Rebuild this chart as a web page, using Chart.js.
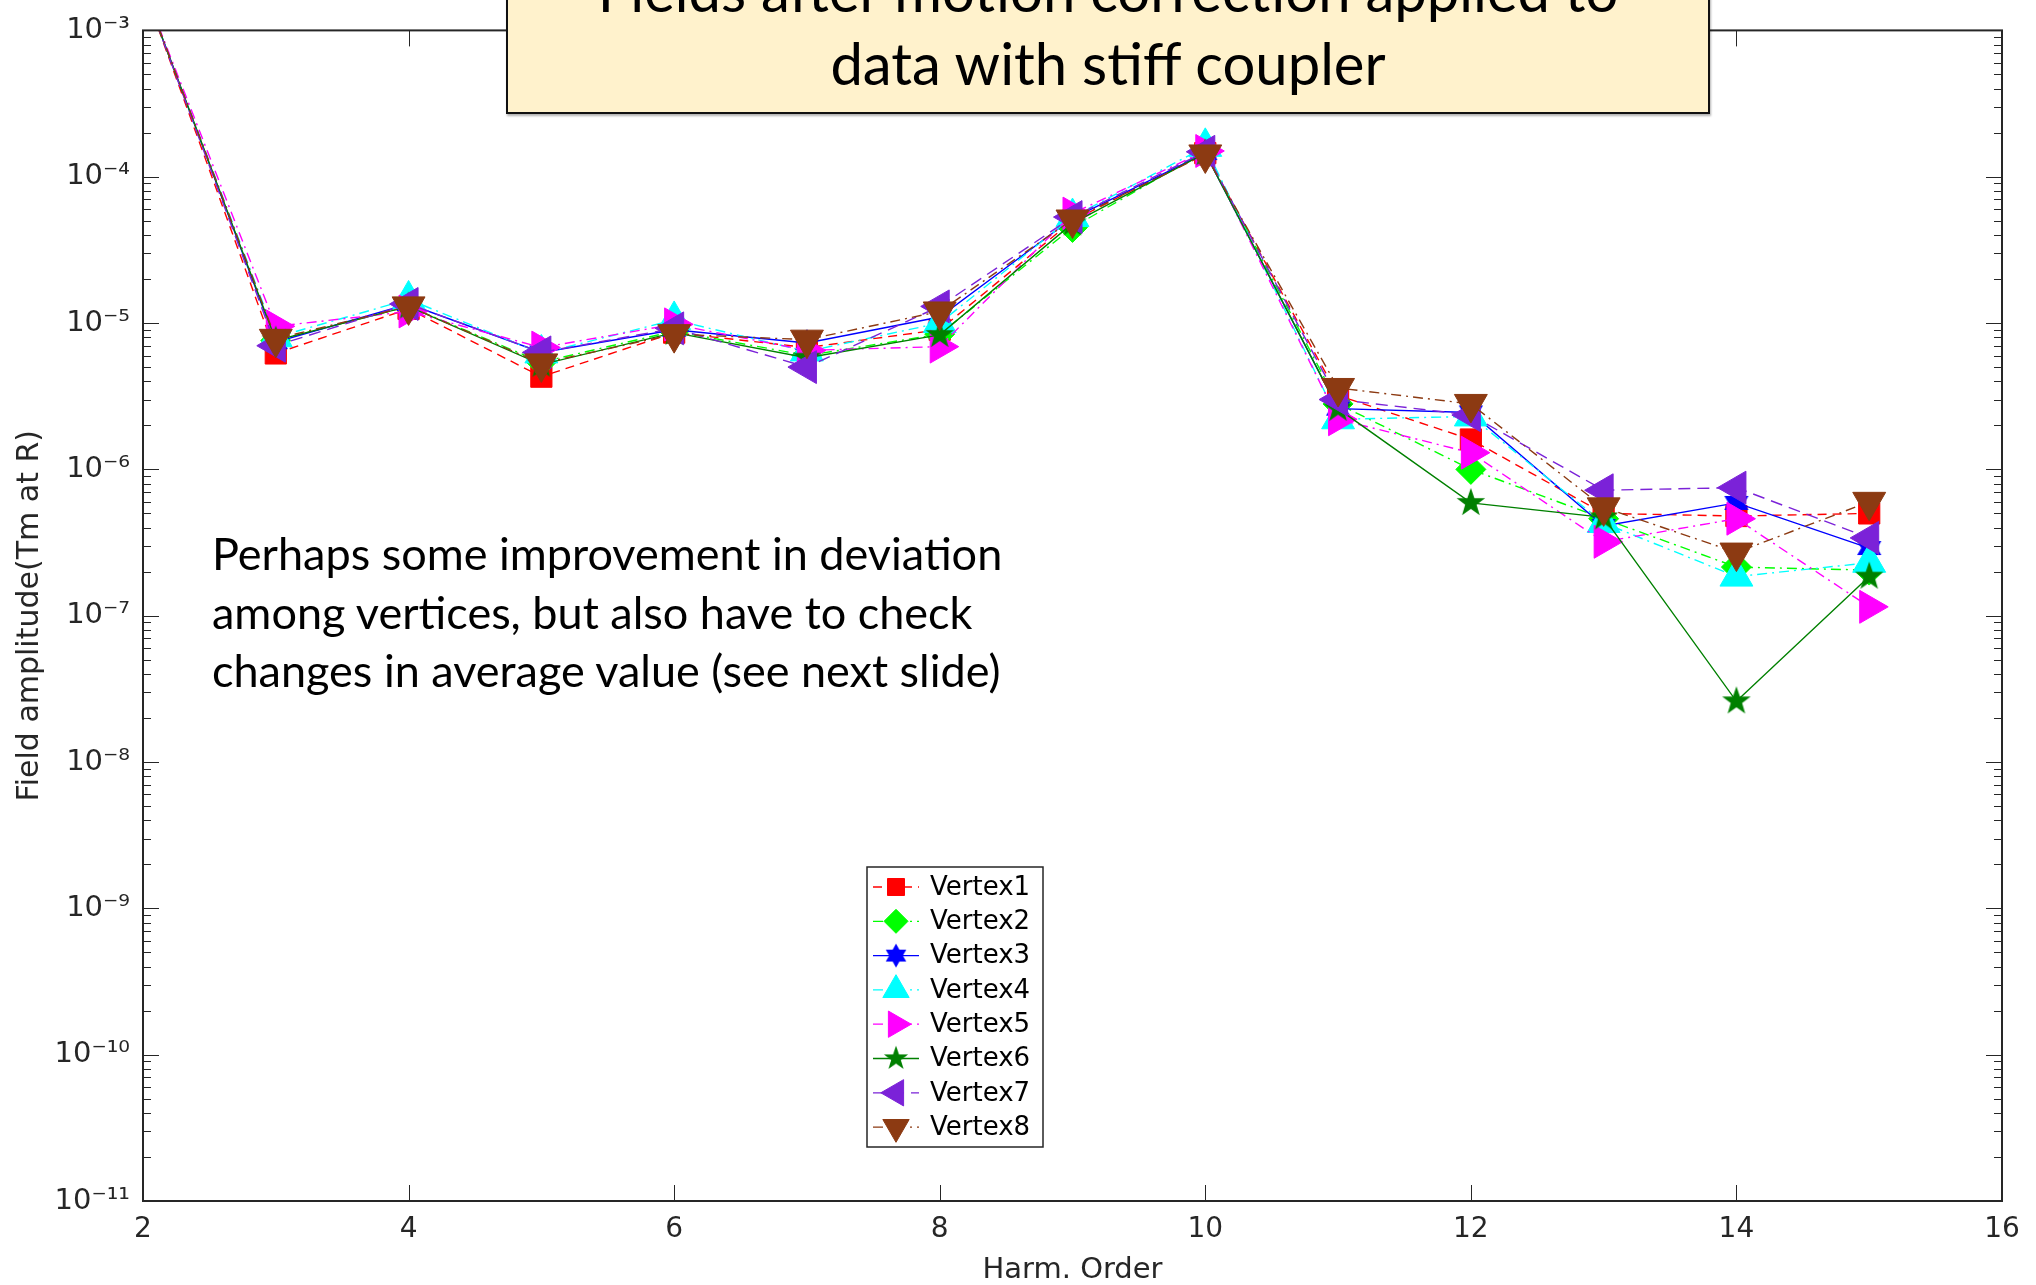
<!DOCTYPE html>
<html>
<head>
<meta charset="utf-8">
<title>Fields after motion correction</title>
<script src="https://cdn.jsdelivr.net/npm/chart.js@4.4.0/dist/chart.umd.min.js"></script>
<style>
    body { margin: 0; background: #fff; overflow: hidden; }
    #wrap { position: relative; width: 2036px; height: 1285px; }
    #titleBox {
        position: absolute; left: 506px; top: -80px; width: 1204px; height: 194px;
        box-sizing: border-box; background: #fff2cc; border: 2px solid #111;
        box-shadow: 1px 2px 2px rgba(0, 0, 0, 0.3);
        font-family: Lato, "Open Sans", sans-serif; font-size: 58px; line-height: 73px;
        text-align: center; color: #000; padding-top: 31px;
    }
    #note {
        position: absolute; left: 212px; top: 524px;
        font-family: Lato, "Open Sans", sans-serif; font-size: 45px; line-height: 58.5px; color: #000;
    }
</style>
</head>
<body>
<div id="wrap">
    <canvas id="fieldChart" width="2036" height="1285"></canvas>
    <div id="titleBox">Fields after motion correction applied to<br>data with stiff coupler</div>
    <div id="note">Perhaps some improvement in deviation<br>among vertices, but also have to check<br>changes in average value (see next slide)</div>
</div>
<script>
// harmonic orders (x) and field amplitude per vertex (Tm at R)
const harmOrders = [2, 3, 4, 5, 6, 7, 8, 9, 10, 11, 12, 13, 14, 15];
const vertex1 = [2.0e-3, 6.2e-6, 1.25e-5, 4.3e-6, 8.6e-6, 6.8e-6, 9.0e-6, 5.0e-5, 1.45e-4, 3.2e-6, 1.6e-6, 5.0e-7, 4.8e-7, 5.0e-7];
const vertex2 = [2.0e-3, 7.6e-6, 1.3e-5, 5.4e-6, 8.8e-6, 6.0e-6, 8.4e-6, 4.5e-5, 1.5e-4, 2.8e-6, 1.0e-6, 4.6e-7, 2.15e-7, 2.05e-7];
const vertex3 = [2.0e-3, 7.4e-6, 1.35e-5, 6.3e-6, 9.0e-6, 7.3e-6, 1.1e-5, 5.2e-5, 1.45e-4, 2.6e-6, 2.45e-6, 4.1e-7, 5.9e-7, 2.9e-7];
const vertex4 = [2.0e-3, 8.0e-6, 1.45e-5, 6.2e-6, 1.05e-5, 6.4e-6, 1.0e-5, 5.3e-5, 1.6e-4, 2.2e-6, 2.3e-6, 4.3e-7, 1.85e-7, 2.3e-7];
const vertex5 = [2.0e-3, 9.5e-6, 1.2e-5, 6.8e-6, 9.8e-6, 6.5e-6, 6.9e-6, 5.6e-5, 1.5e-4, 2.2e-6, 1.3e-6, 3.2e-7, 4.6e-7, 1.15e-7];
const vertex6 = [2.0e-3, 7.6e-6, 1.3e-5, 5.2e-6, 8.6e-6, 5.8e-6, 8.3e-6, 4.8e-5, 1.45e-4, 2.6e-6, 5.9e-7, 4.7e-7, 2.6e-8, 1.85e-7];
const vertex7 = [2.0e-3, 7.0e-6, 1.35e-5, 6.3e-6, 9.2e-6, 5.0e-6, 1.3e-5, 5.3e-5, 1.48e-4, 3.0e-6, 2.35e-6, 7.2e-7, 7.5e-7, 3.4e-7];
const vertex8 = [2.0e-3, 7.8e-6, 1.3e-5, 5.3e-6, 8.4e-6, 7.7e-6, 1.2e-5, 5.1e-5, 1.42e-4, 3.6e-6, 2.8e-6, 5.5e-7, 2.7e-7, 6.0e-7];
const seriesNames = ['Vertex1', 'Vertex2', 'Vertex3', 'Vertex4', 'Vertex5', 'Vertex6', 'Vertex7', 'Vertex8'];
const xTickValues = [2, 4, 6, 8, 10, 12, 14, 16];
const yDecades = [-11, -10, -9, -8, -7, -6, -5, -4, -3];

const axisColor = '#262626';
const supDigits = { '0': '⁰', '1': '¹', '2': '²', '3': '³', '4': '⁴', '5': '⁵', '6': '⁶', '7': '⁷', '8': '⁸', '9': '⁹', '-': '⁻' };

// filled star marker (pentagram / hexagram) as a small canvas
function starMarker(points, outer, inner, color) {
    const size = Math.ceil(outer * 2 + 2);
    const c = document.createElement('canvas');
    c.width = size;
    c.height = size;
    const g = c.getContext('2d');
    g.translate(size / 2, size / 2);
    g.beginPath();
    for (let i = 0; i < points * 2; i++) {
        const r = i % 2 ? inner : outer;
        const a = -Math.PI / 2 + i * Math.PI / points;
        g.lineTo(r * Math.cos(a), r * Math.sin(a));
    }
    g.closePath();
    g.fillStyle = color;
    g.fill();
    return c;
}

const styles = [
    { color: '#ff0000', dash: [9, 6], point: 'rect', rotation: 0, radius: 15 },
    { color: '#00ff00', dash: [10, 5, 2, 5], point: 'rectRot', rotation: 0, radius: 15 },
    { color: '#0000ff', dash: [], point: starMarker(6, 14, 8, '#0000ff'), rotation: 0, radius: 14 },
    { color: '#00ffff', dash: [10, 5, 2, 5], point: 'triangle', rotation: 0, radius: 19 },
    { color: '#ff00ff', dash: [10, 5, 2, 5], point: 'triangle', rotation: 90, radius: 19 },
    { color: '#008000', dash: [], point: starMarker(5, 15, 6, '#008000'), rotation: 0, radius: 15 },
    { color: '#7b22d8', dash: [12, 7], point: 'triangle', rotation: 270, radius: 19 },
    { color: '#8c3a12', dash: [10, 5, 2, 5], point: 'triangle', rotation: 180, radius: 19 }
];
const seriesValues = [vertex1, vertex2, vertex3, vertex4, vertex5, vertex6, vertex7, vertex8];

const datasets = seriesValues.map((vals, i) => ({
    label: seriesNames[i],
    data: vals,
    borderColor: styles[i].color,
    backgroundColor: styles[i].color,
    borderWidth: 1.4,
    borderDash: styles[i].dash,
    pointStyle: styles[i].point,
    rotation: styles[i].rotation,
    pointRadius: styles[i].radius,
    pointBorderWidth: 1,
    pointBorderColor: styles[i].color,
    pointBackgroundColor: styles[i].color,
    tension: 0,
    clip: 0,
    order: seriesValues.length - 1 - i   // last vertex on top, like MATLAB
}));

// box, inward major/minor tick marks
const axesBox = {
    id: 'axesBox',
    afterDatasetsDraw(chart) {
        const { ctx, chartArea: a, scales: { x, y } } = chart;
        ctx.save();
        ctx.strokeStyle = axisColor;
        ctx.lineWidth = 1;
        ctx.beginPath();
        yDecades.forEach(e => {
            for (let m = 1; m <= 9; m++) {
                const v = m * Math.pow(10, e);
                if (v > 1.0001e-3) break;
                const py = Math.round(y.getPixelForValue(v)) + 0.5;
                const len = m === 1 ? 16 : 8;
                ctx.moveTo(a.left, py);
                ctx.lineTo(a.left + len, py);
                ctx.moveTo(a.right, py);
                ctx.lineTo(a.right - len, py);
            }
        });
        xTickValues.forEach(v => {
            const px = Math.round(x.getPixelForValue(v)) + 0.5;
            ctx.moveTo(px, a.bottom);
            ctx.lineTo(px, a.bottom - 16);
            ctx.moveTo(px, a.top);
            ctx.lineTo(px, a.top + 16);
        });
        ctx.stroke();
        ctx.lineWidth = 2;
        ctx.strokeRect(a.left, a.top, a.right - a.left, a.bottom - a.top);
        ctx.restore();
    }
};

// MATLAB style legend box inside the axes
const boxLegend = {
    id: 'boxLegend',
    afterDraw(chart) {
        const ctx = chart.ctx;
        const left = 867, top = 867, w = 176, h = 280, rowH = 34.3;
        ctx.save();
        ctx.fillStyle = '#fff';
        ctx.fillRect(left, top, w, h);
        ctx.strokeStyle = axisColor;
        ctx.lineWidth = 1.5;
        ctx.strokeRect(left, top, w, h);
        ctx.font = '26px "DejaVu Sans"';
        ctx.textBaseline = 'middle';
        chart.data.datasets.forEach((ds, i) => {
            const cy = top + 20 + i * rowH;
            ctx.strokeStyle = ds.borderColor;
            ctx.lineWidth = 1.3;
            ctx.setLineDash(ds.borderDash);
            ctx.beginPath();
            ctx.moveTo(left + 6, cy);
            ctx.lineTo(left + 52, cy);
            ctx.stroke();
            ctx.setLineDash([]);
            ctx.fillStyle = ds.pointBackgroundColor;
            ctx.strokeStyle = ds.pointBorderColor;
            ctx.lineWidth = 1;
            if (ds.pointStyle instanceof HTMLCanvasElement) {
                const s = ds.pointStyle.width * 0.85;
                ctx.drawImage(ds.pointStyle, left + 29 - s / 2, cy - s / 2, s, s);
            } else {
                Chart.helpers.drawPoint(ctx, {
                    pointStyle: ds.pointStyle, rotation: ds.rotation,
                    radius: ds.pointRadius * 0.8, borderWidth: 1
                }, left + 29, cy);
            }
            ctx.fillStyle = '#000';
            ctx.fillText(ds.label, left + 63, cy + 1);
        });
        ctx.restore();
    }
};

new Chart(document.getElementById('fieldChart'), {
    type: 'line',
    data: { labels: harmOrders, datasets: datasets },
    options: {
        responsive: false,
        animation: false,
        devicePixelRatio: 1,
        layout: { padding: { left: 0, right: 34, top: 28, bottom: 0 } },
        plugins: { legend: { display: false }, tooltip: { enabled: false } },
        scales: {
            x: {
                type: 'linear',
                min: 2,
                max: 16,
                grid: { display: false, drawTicks: false },
                border: { display: false },
                afterBuildTicks: (scale) => { scale.ticks = xTickValues.map(v => ({ value: v })); },
                afterFit: (scale) => { scale.height = 84; },
                ticks: { color: axisColor, font: { family: 'DejaVu Sans', size: 28 }, padding: 12, maxRotation: 0 },
                title: {
                    display: true, text: 'Harm. Order', color: axisColor,
                    font: { family: 'DejaVu Sans', size: 29, lineHeight: 1 }, padding: { top: 0, bottom: 0 }
                }
            },
            y: {
                type: 'logarithmic',
                min: 1e-11,
                max: 1e-3,
                grid: { display: false, drawTicks: false },
                border: { display: false },
                afterBuildTicks: (scale) => { scale.ticks = yDecades.map(e => ({ value: Math.pow(10, e) })); },
                afterFit: (scale) => { scale.width = 143; },
                ticks: {
                    color: axisColor,
                    font: { family: 'DejaVu Sans', size: 29 },
                    padding: 13,
                    callback: (value) => '10' + String(Math.round(Math.log10(value))).split('').map(ch => supDigits[ch]).join('')
                },
                title: {
                    display: true, text: 'Field amplitude(Tm at R)', color: axisColor,
                    font: { family: 'DejaVu Sans', size: 30 }, padding: { top: 12, bottom: 0 }
                }
            }
        }
    },
    plugins: [axesBox, boxLegend]
});
</script>
</body>
</html>
